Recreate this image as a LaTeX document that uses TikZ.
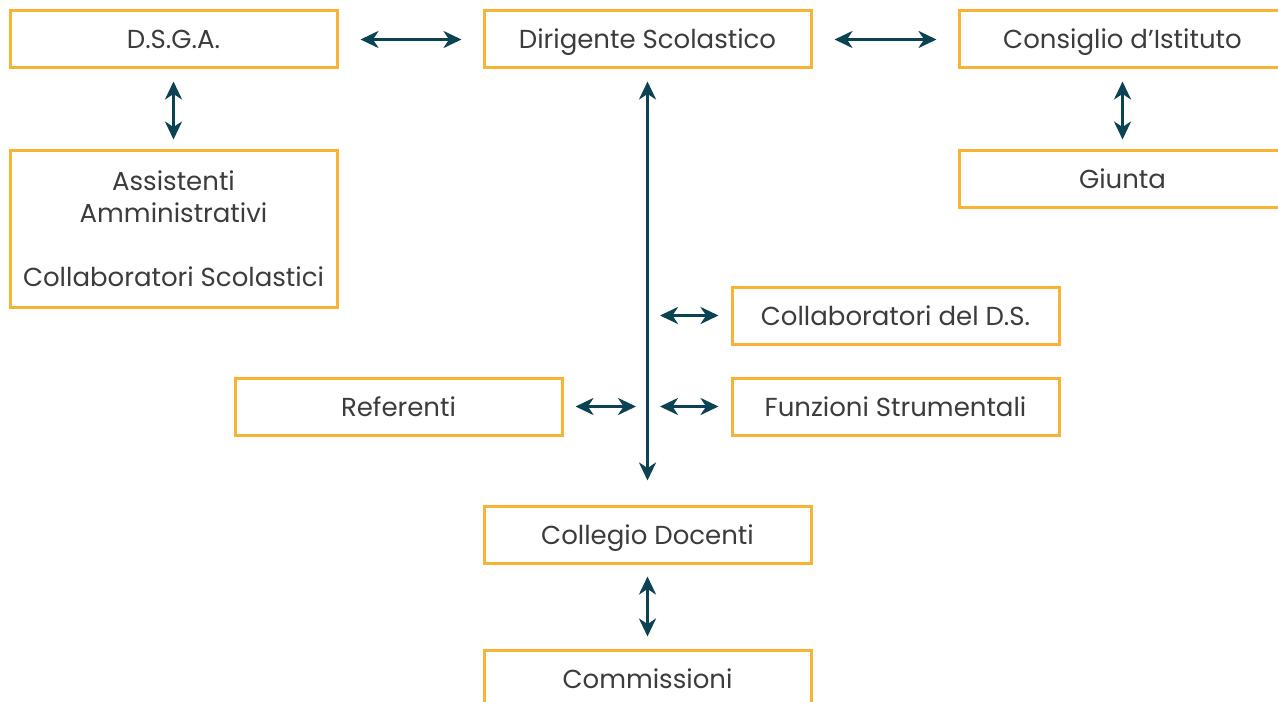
\documentclass[tikz,border=0pt]{standalone}
\usepackage{fontspec}
\setmainfont{Poppins}
\usetikzlibrary{positioning,arrows.meta}
\definecolor{boxorange}{HTML}{F9B233}
\definecolor{linkteal}{HTML}{0B4352}
\definecolor{textgrey}{HTML}{3C3C3C}
\begin{document}
\begin{tikzpicture}[
    x=0.5pt, y=-0.5pt,
    box/.style={
        rectangle,
        draw=boxorange,
        line width=1.5pt,
        minimum width=163.5pt,
        minimum height=28.5pt,
        text=textgrey,
        text centered,
        align=center,
        font=\fontsize{13}{16}\selectfont
    },
    line/.style={
        text height=11pt,
        text depth=1.5pt
    },
    link/.style={
        draw=linkteal,
        line width=1.5pt,
        {Stealth[length=9pt,width=8.5pt,inset=2.8pt]}-{Stealth[length=9pt,width=8.5pt,inset=2.8pt]},
        shorten <=6pt,
        shorten >=6pt
    },
]
    \useasboundingbox (0,0) rectangle (1278,701);
    \node (dsga) [box, line] at (173.5,39.5) {D.S.G.A.};
    \node (ds) [box, line] at (647.5,39.5) {Dirigente Scolastico};
    \node (ci) [box, line] at (1122.5,39.5) {Consiglio d’Istituto};
    \node (giunta) [box, line] at (1122.5,178.5) {Giunta};
    \node (staff) [box, minimum height=78.5pt] at (173.5,228.5)
        {Assistenti\\Amministrativi\\~\\Collaboratori Scolastici};
    \node (collab) [box, line] at (895.5,315.5) {Collaboratori del D.S.};
    \node (fs) [box, line] at (895.5,406.5) {Funzioni Strumentali};
    \node (ref) [box, line] at (398.5,406.5) {Referenti};
    \node (cd) [box, line] at (647.5,534.5) {Collegio Docenti};
    \node (comm) [box, line] at (647.5,678.5) {Commissioni};

    \coordinate (t1) at (648,315.5);
    \coordinate (t2) at (648,406.5);

    \draw[link, shorten <=11pt, shorten >=10.5pt] (dsga) -- (ds);
    \draw[link, shorten <=11pt, shorten >=10.5pt] (ds) -- (ci);
    \draw[link, shorten >=4.5pt] (dsga) -- (staff);
    \draw[link, shorten >=4.5pt] (ci) -- (giunta);
    \draw[link, shorten >=12pt] (ds) -- (cd);
    \draw[link] (t1) -- (collab);
    \draw[link] (t2) -- (fs);
    \draw[link] (t2) -- (ref);
    \draw[link] (cd) -- (comm);
\end{tikzpicture}
\end{document}
